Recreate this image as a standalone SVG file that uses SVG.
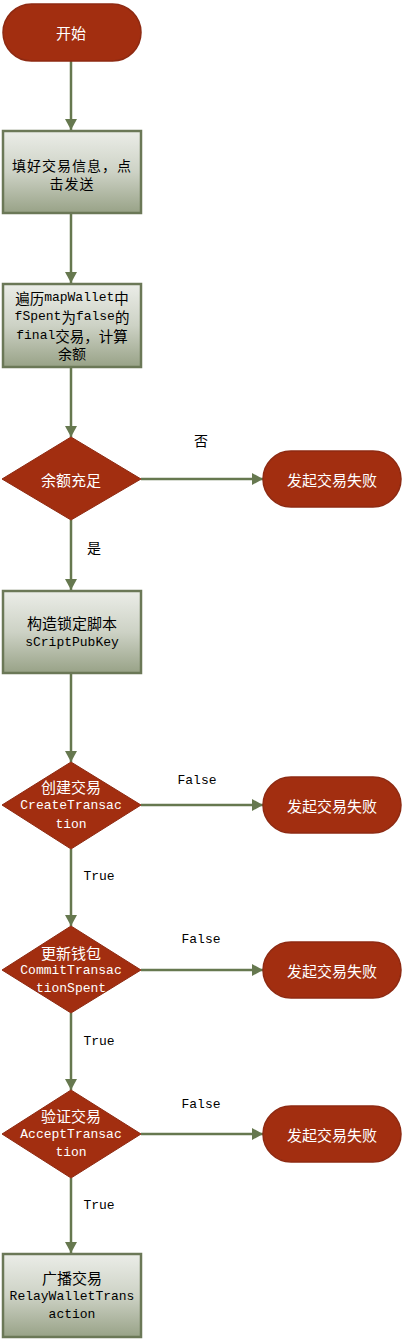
<svg xmlns="http://www.w3.org/2000/svg" width="403" height="1342" viewBox="0 0 403 1342">
<style>
.term{fill:#A22E10;stroke:#8E2A12;stroke-width:1.5}
.dec{fill:#A22E10;stroke:#8E2A12;stroke-width:1}
.proc{fill:url(#g);stroke:#6B7857;stroke-width:2.5}
.conn{fill:none;stroke:#66784F;stroke-width:2.5;marker-end:url(#ar)}
.cjk{font-family:"Noto Sans CJK SC","Liberation Sans",sans-serif;font-size:14px;text-anchor:middle;dominant-baseline:central}
.big{font-size:15px}
.mix{font-family:"Liberation Mono","Noto Sans CJK SC",monospace;font-size:13px;text-anchor:middle;dominant-baseline:central}
.c{font-family:"Noto Sans CJK SC",sans-serif;font-size:14.5px}
.w{fill:#ffffff}
.k{fill:#000000}
</style>
<defs>
<linearGradient id="g" x1="0" y1="0" x2="0" y2="1">
<stop offset="0" stop-color="#EBEDE8"/>
<stop offset="0.5" stop-color="#CDD2C5"/>
<stop offset="1" stop-color="#98A287"/>
</linearGradient>
<marker id="ar" markerUnits="userSpaceOnUse" markerWidth="12" markerHeight="12" refX="11" refY="6" orient="auto">
<path d="M0,0 L11,6 L0,12 z" fill="#66784F"/>
</marker>
</defs>
<rect width="403" height="1342" fill="#ffffff"/>
<g id="connectors">
<path class="conn" d="M71,61 V130"/>
<path class="conn" d="M71,213 V283"/>
<path class="conn" d="M71,367 V437"/>
<path class="conn" d="M141,479 H263"/>
<path class="conn" d="M71,520 V590"/>
<path class="conn" d="M71,673 V762"/>
<path class="conn" d="M141,805 H263"/>
<path class="conn" d="M71,849 V926"/>
<path class="conn" d="M141,970 H263"/>
<path class="conn" d="M71,1013 V1090"/>
<path class="conn" d="M141,1134 H263"/>
<path class="conn" d="M71,1178 V1253"/>
</g>
<g id="labels">
<text class="cjk k" x="201" y="440">否</text>
<text class="cjk k" x="94" y="547">是</text>
<text class="mix k" x="197" y="780">False</text>
<text class="mix k" x="99" y="876">True</text>
<text class="mix k" x="201" y="939">False</text>
<text class="mix k" x="99" y="1041">True</text>
<text class="mix k" x="201" y="1104">False</text>
<text class="mix k" x="99" y="1205">True</text>
</g>
<g id="start">
<rect class="term" x="3" y="4" width="138" height="57" rx="28.5"/>
<text class="cjk big w" x="71" y="32">开始</text>
</g>
<g id="fill">
<rect class="proc" x="3" y="131" width="138" height="82"/>
<text class="cjk k" x="72" y="165" letter-spacing="1">填好交易信息，点</text>
<text class="cjk k" x="72" y="183" letter-spacing="1">击发送</text>
</g>
<g id="traverse">
<rect class="proc" x="3" y="284" width="138" height="83"/>
<text class="mix k" x="72" y="297"><tspan class="c">遍历</tspan>mapWallet<tspan class="c">中</tspan></text>
<text class="mix k" x="72" y="316">fSpent<tspan class="c">为</tspan>false<tspan class="c">的</tspan></text>
<text class="mix k" x="72" y="335">final<tspan class="c">交易，计算</tspan></text>
<text class="cjk k" x="72" y="353">余额</text>
</g>
<g id="balance">
<polygon class="dec" points="71,437 141,479 71,520 2,479"/>
<text class="cjk big w" x="71" y="479">余额充足</text>
</g>
<g id="fail1">
<rect class="term" x="263" y="451" width="138" height="56" rx="28"/>
<text class="cjk big w" x="332" y="479">发起交易失败</text>
</g>
<g id="script">
<rect class="proc" x="3" y="591" width="138" height="82"/>
<text class="cjk big k" x="72" y="622">构造锁定脚本</text>
<text class="mix k" x="72" y="642">sCriptPubKey</text>
</g>
<g id="create">
<polygon class="dec" points="71,762 141,805 71,849 2,805"/>
<text class="cjk big w" x="71" y="786">创建交易</text>
<text class="mix w" x="71" y="805">CreateTransac</text>
<text class="mix w" x="71" y="824">tion</text>
</g>
<g id="fail2">
<rect class="term" x="263" y="777" width="138" height="56" rx="28"/>
<text class="cjk big w" x="332" y="805">发起交易失败</text>
</g>
<g id="commit">
<polygon class="dec" points="71,926 141,970 71,1013 2,970"/>
<text class="cjk big w" x="71" y="952">更新钱包</text>
<text class="mix w" x="71" y="970">CommitTransac</text>
<text class="mix w" x="71" y="988">tionSpent</text>
</g>
<g id="fail3">
<rect class="term" x="263" y="942" width="138" height="56" rx="28"/>
<text class="cjk big w" x="332" y="970">发起交易失败</text>
</g>
<g id="accept">
<polygon class="dec" points="71,1090 141,1134 71,1178 2,1134"/>
<text class="cjk big w" x="71" y="1115">验证交易</text>
<text class="mix w" x="71" y="1134">AcceptTransac</text>
<text class="mix w" x="71" y="1152">tion</text>
</g>
<g id="fail4">
<rect class="term" x="263" y="1106" width="138" height="56" rx="28"/>
<text class="cjk big w" x="332" y="1134">发起交易失败</text>
</g>
<g id="relay">
<rect class="proc" x="3" y="1254" width="138" height="83"/>
<text class="cjk big k" x="72" y="1277">广播交易</text>
<text class="mix k" x="72" y="1296">RelayWalletTrans</text>
<text class="mix k" x="72" y="1314">action</text>
</g>
</svg>
